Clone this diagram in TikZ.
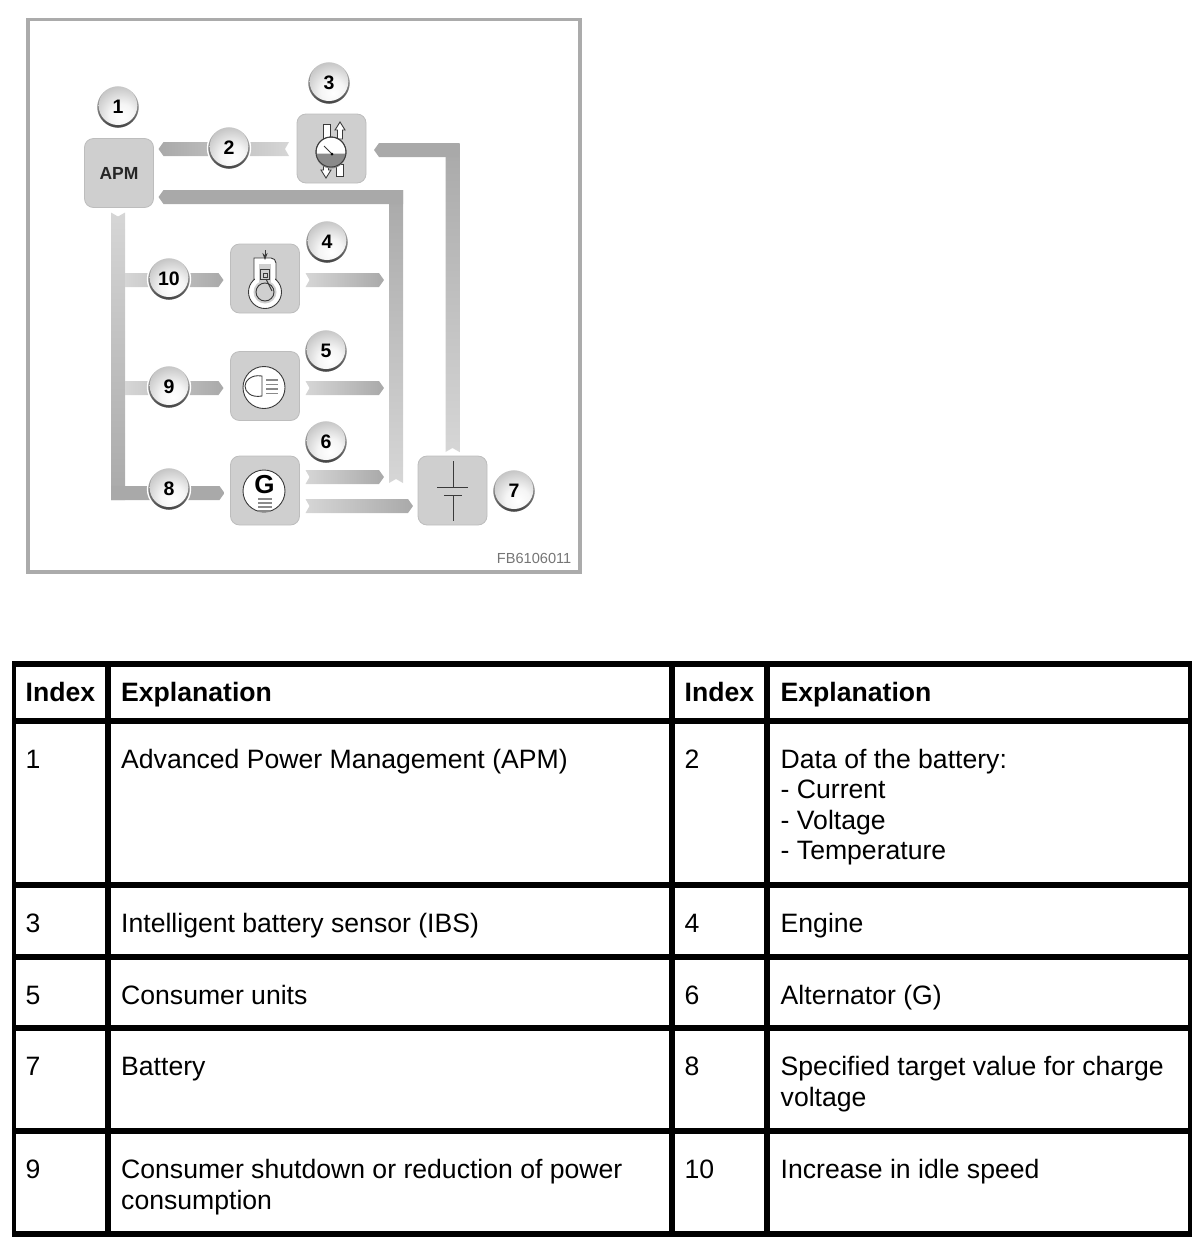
\documentclass[tikz,border=0pt]{standalone}
\usepackage{fontspec}
\setmainfont{Liberation Sans}
\usetikzlibrary{calc,arrows.meta,positioning}
\definecolor{framegray}{HTML}{ABABAB}
\definecolor{boxgray}{HTML}{CFCFCF}
\definecolor{boxedge}{HTML}{BDBDBD}
\definecolor{flowdark}{HTML}{A9A9A9}
\definecolor{flowlight}{HTML}{D6D6D6}
\definecolor{icondark}{HTML}{3A3A3A}
\definecolor{iconmid}{HTML}{8A8A8A}
\pgfdeclareradialshading{ballshade}{\pgfpoint{5bp}{-12bp}}{color(0bp)=(white);color(14bp)=(white!96!black);color(28bp)=(white!82!black);color(42bp)=(white!68!black);color(60bp)=(white!55!black);color(100bp)=(white!55!black)}
\newcommand{\ribbon}[5][]{%
  \coordinate (rA) at (#2);\coordinate (rB) at (#3);
  \coordinate (rS) at ($(rB)!#5!(rA)$);
  \shade[#1] ($(rA)!7pt!90:(rB)$) -- ($(rA)!#4!(rB)$) -- ($(rA)!7pt!-90:(rB)$)
    -- ($(rS)!7pt!90:(rA)$) -- (rB) -- ($(rS)!7pt!-90:(rA)$) -- cycle;}
\begin{document}
\begin{tikzpicture}[x=1pt,y=-1pt,>=Stealth,
  boxnode/.style={draw=boxedge,fill=boxgray,line width=0.8pt,rounded corners=9pt,minimum size=69pt,inner sep=0pt,outer sep=0pt},
  badge/.style={circle,draw=white,line width=1.4pt,minimum size=43pt,inner sep=0pt,outer sep=0pt,top color=white!80!black,bottom color=black!75,font=\fontsize{19.5}{19.5}\selectfont\bfseries,
    path picture={\shade[shading=ballshade] ([yshift=1.3pt]path picture bounding box.center) circle (19.3pt);}},
  cell/.style={anchor=north west,inner sep=0pt,outer sep=0pt,align=left,font=\fontsize{26.6}{30.5}\selectfont,execute at begin node=\strut},
  rowline/.style={line width=6pt},collline/.style={line width=5.5pt},edgeline/.style={line width=4pt},
  iconline/.style={draw=icondark,line width=0.9pt,fill=white},iconhatch/.style={draw=iconmid,line width=1.1pt}]
\useasboundingbox (0,0) rectangle (1200,1248);
\draw[framegray,line width=3.5pt] (28,19.5) rectangle (580,572);

\node[boxnode,font=\fontsize{17.5}{17.5}\selectfont\bfseries,text=black!85] (apm) at (119,173) {APM};
\node[boxnode] (ibs) at (331.5,148.5) {};
\node[boxnode] (engine) at (265,278.5) {};
\node[boxnode] (consumer) at (265,386) {};
\node[boxnode] (generator) at (265,490.5) {};
\node[boxnode] (battery) at (452.5,490.5) {};

\coordinate (busA) at (396,197);\coordinate (busB) at (452.5,150);\coordinate (trunk) at (118,493);
\coordinate (t2) at (229,149);\coordinate (t4) at (384,280);\coordinate (t5) at (384,388);\coordinate (t6) at (384,477);\coordinate (t7) at (413,506);
\coordinate (b10) at (125,280);\coordinate (b9) at (125,388);\coordinate (tailA) at (396,483);

\ribbon[left color=flowdark,right color=flowlight]{[xshift=-8pt]ibs.west |- t2}{[xshift=5pt]apm.east |- t2}{4pt}{5pt}
\ribbon[top color=flowdark,bottom color=flowlight]{[yshift=4pt]battery.north -| busB}{[yshift=7pt]busB}{4pt}{0pt}
\ribbon[left color=flowdark,right color=flowdark]{[xshift=6.5pt]busB}{[xshift=8pt]ibs.east |- busB}{0pt}{5pt}
\ribbon[top color=flowdark,bottom color=flowlight]{tailA}{[yshift=7pt]busA}{4pt}{0pt}
\ribbon[left color=flowdark,right color=flowdark]{[xshift=7pt]busA}{[xshift=5pt]apm.east |- busA}{0pt}{5pt}
\ribbon[top color=flowlight,bottom color=flowdark]{[yshift=-5pt]apm.south -| trunk}{[yshift=-7pt]trunk}{4pt}{0pt}
\ribbon[left color=flowdark,right color=flowdark]{[xshift=-7pt]trunk}{[xshift=-6pt]generator.west |- trunk}{0pt}{5pt}
\ribbon[left color=flowlight,right color=flowdark]{b10}{[xshift=-7pt]engine.west |- b10}{0pt}{5pt}
\ribbon[left color=flowlight,right color=flowdark]{b9}{[xshift=-7pt]consumer.west |- b9}{0pt}{5pt}
\ribbon[left color=flowlight,right color=flowdark]{[xshift=6pt]engine.east |- t4}{t4}{4pt}{5pt}
\ribbon[left color=flowlight,right color=flowdark]{[xshift=6pt]consumer.east |- t5}{t5}{4pt}{5pt}
\ribbon[left color=flowlight,right color=flowdark]{[xshift=6pt]generator.east |- t6}{t6}{4pt}{5pt}
\ribbon[left color=flowlight,right color=flowdark]{[xshift=6pt]generator.east |- t7}{t7}{4pt}{5pt}

\filldraw[iconline] (323,124) rectangle (330,138);\filldraw[iconline] (336,164) rectangle (343,176);
\filldraw[iconline] (340,122) -- (345,130) -- (342.5,130) -- (342.5,139) -- (337.5,139) -- (337.5,130) -- (335,130) -- cycle;
\filldraw[iconline] (326,178) -- (321,170) -- (323.5,170) -- (323.5,164) -- (328.5,164) -- (328.5,170) -- (331,170) -- cycle;
\filldraw[iconline] (331,152) circle (15pt);
\fill[iconmid] (316,153.5) arc[start angle=180,end angle=360,radius=15pt] -- cycle;
\draw[icondark,line width=0.9pt] (331,152) circle (15pt);
\draw[icondark,line width=1pt] (324,146) -- (332,154);\fill[black] (332,154) circle (1.5pt);

\filldraw[iconline] (254,258) [rounded corners=5pt] -- (276,258) [sharp corners] -- (276,282) -- (254,282) -- cycle;
\filldraw[iconline] (265,292) circle (16.5pt);
\fill[white] (255,270) rectangle (275,288);
\fill[boxgray] (259,264) rectangle (271,285);\fill[boxgray] (265,292) circle (11.5pt);
\draw[icondark,line width=0.9pt] (260,269) rectangle (269,279);\draw[icondark,line width=0.9pt] (265,292) circle (9pt);
\draw[icondark,line width=0.9pt] (263,273) rectangle (267,277);\draw[icondark,line width=0.9pt] (266,279) -- (272,291);
\draw[->,icondark,line width=0.9pt] (265,250) -- (265,260);

\filldraw[iconline] (264,387.5) circle (21pt);
\draw[icondark,line width=0.9pt] (262,376) .. controls (250,374) and (245,382) .. (245,386) .. controls (245,392) and (251,398) .. (262,396) -- cycle;
\draw[iconhatch] (266,380) -- (278,380) (266,384.5) -- (278,384.5) (266,389) -- (278,389) (266,393.5) -- (278,393.5);

\filldraw[iconline] (264,491) circle (21pt);
\node[inner sep=0pt,font=\fontsize{26}{26}\selectfont\bfseries] (gmark) at (264.5,484.5) {G};
\draw[iconhatch] (258,499) -- (272,499) (258,503) -- (272,503) (258,507) -- (272,507) (258,511) -- (270,511);

\draw[icondark,line width=1pt] (453,461) -- (453,487) (437,487) -- (468,487) (444,495) -- (462,495) (453,495) -- (453,521);

\node[badge] (n1) at (118,107) {1};
\node[badge] (n2) at (229,148) {2};
\node[badge] (n3) at (329,83) {3};
\node[badge] (n4) at (327,242) {4};
\node[badge] (n5) at (326,351) {5};
\node[badge] (n6) at (326,442) {6};
\node[badge] (n7) at (514,491) {7};
\node[badge] (n8) at (169,489) {8};
\node[badge] (n9) at (169,387) {9};
\node[badge] (n10) at (169,279) {10};
\node[inner sep=0pt,anchor=east,text=iconmid!85!black,font=\fontsize{14.6}{15}\selectfont] (code) at (571.5,558) {FB6106011};

\draw[rowline] (12,664) -- (1192,664);\draw[rowline] (12,721) -- (1192,721);\draw[rowline] (12,885) -- (1192,885);\draw[rowline] (12,957) -- (1192,957);
\draw[rowline] (12,1028) -- (1192,1028);\draw[rowline] (12,1131) -- (1192,1131);\draw[rowline] (12,1234) -- (1192,1234);
\draw[edgeline] (14,661) -- (14,1237);\draw[edgeline] (1190,661) -- (1190,1237);
\draw[collline] (108,661) -- (108,1237);\draw[collline] (672,661) -- (672,1237);\draw[collline] (767,661) -- (767,1237);

\node[cell] (h1) at (25.7,680.6) {\bfseries Index};
\node[cell] (h2) at (121.2,680.6) {\bfseries Explanation};
\node[cell] (h3) at (684.7,680.6) {\bfseries Index};
\node[cell] (h4) at (780.7,680.6) {\bfseries Explanation};
\node[cell] (i1) at (25.7,747.6) {1};
\node[cell] (e1) at (121.2,747.6) {Advanced Power Management (APM)};
\node[cell] (i2) at (684.7,747.6) {2};
\node[cell] (e2) at (780.7,749) {Data of the battery:\\- Current\\- Voltage\\- Temperature};
\node[cell] (i3) at (25.7,911.6) {3};
\node[cell] (e3) at (121.2,911.6) {Intelligent battery sensor (IBS)};
\node[cell] (i4) at (684.7,911.6) {4};
\node[cell] (e4) at (780.7,911.6) {Engine};
\node[cell] (i5) at (25.7,983.6) {5};
\node[cell] (e5) at (121.2,983.6) {Consumer units};
\node[cell] (i6) at (684.7,983.6) {6};
\node[cell] (e6) at (780.7,983.6) {Alternator (G)};
\node[cell] (i7) at (25.7,1054.6) {7};
\node[cell] (e7) at (121.2,1054.6) {Battery};
\node[cell] (i8) at (684.7,1054.6) {8};
\node[cell] (e8) at (780.7,1056.6) {Specified target value for charge\\voltage};
\node[cell] (i9) at (25.7,1157.6) {9};
\node[cell] (e9) at (121.2,1159.6) {Consumer shutdown or reduction of power\\consumption};
\node[cell] (i10) at (684.7,1157.6) {10};
\node[cell] (e10) at (780.7,1157.6) {Increase in idle speed};
\end{tikzpicture}
\end{document}
